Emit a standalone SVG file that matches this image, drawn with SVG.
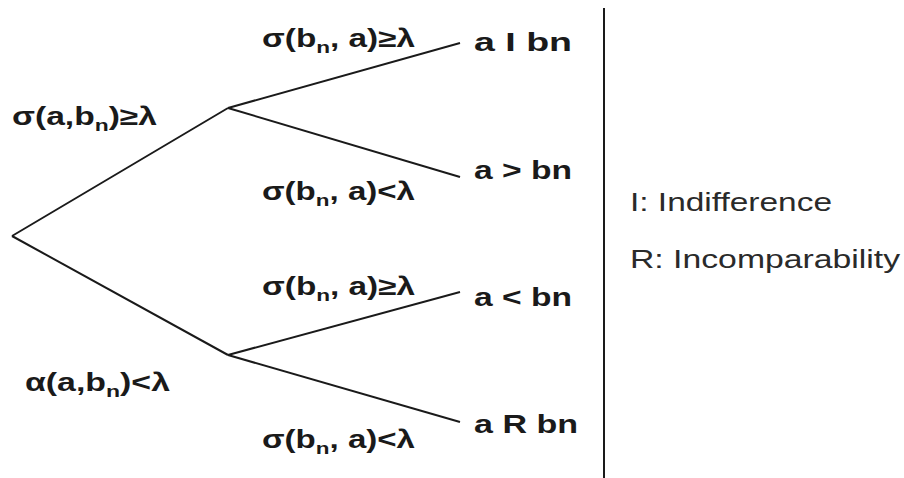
<svg xmlns="http://www.w3.org/2000/svg" width="904" height="478" viewBox="0 0 904 478">
<style>
.lbl{font-family:"Liberation Sans",Arial,sans-serif;font-weight:bold;font-size:25px;fill:#1a1a1a}
.leg{font-family:"Liberation Sans",Arial,sans-serif;font-size:26px;fill:#2a2a2a}
.sub{font-size:17px}
.edge{stroke:#1a1a1a;stroke-width:2;fill:none}
</style>
<rect width="904" height="478" fill="#ffffff"/>
<g id="connectors">
<line class="edge" x1="12" y1="236" x2="228" y2="108"/>
<line class="edge" x1="12" y1="236" x2="228" y2="355"/>
<line class="edge" x1="228" y1="108" x2="460" y2="43"/>
<line class="edge" x1="228" y1="108" x2="460" y2="177"/>
<line class="edge" x1="228" y1="355" x2="460" y2="292"/>
<line class="edge" x1="228" y1="355" x2="460" y2="422"/>
<line class="edge" x1="604" y1="8" x2="604" y2="478"/>
</g>
<g id="cond-top">
<text class="lbl" x="12" y="125" textLength="145" lengthAdjust="spacingAndGlyphs">σ(a,b<tspan class="sub" dy="6">n</tspan><tspan dy="-6">)≥λ</tspan></text>
</g>
<g id="cond-bottom">
<text class="lbl" x="25" y="391" textLength="145" lengthAdjust="spacingAndGlyphs">α(a,b<tspan class="sub" dy="6">n</tspan><tspan dy="-6">)&lt;λ</tspan></text>
</g>
<g id="cond-1">
<text class="lbl" x="262" y="47" textLength="153" lengthAdjust="spacingAndGlyphs">σ(b<tspan class="sub" dy="6">n</tspan><tspan dy="-6">, a)≥λ</tspan></text>
</g>
<g id="cond-2">
<text class="lbl" x="262" y="200" textLength="153" lengthAdjust="spacingAndGlyphs">σ(b<tspan class="sub" dy="6">n</tspan><tspan dy="-6">, a)&lt;λ</tspan></text>
</g>
<g id="cond-3">
<text class="lbl" x="262" y="295" textLength="153" lengthAdjust="spacingAndGlyphs">σ(b<tspan class="sub" dy="6">n</tspan><tspan dy="-6">, a)≥λ</tspan></text>
</g>
<g id="cond-4">
<text class="lbl" x="262" y="448" textLength="153" lengthAdjust="spacingAndGlyphs">σ(b<tspan class="sub" dy="6">n</tspan><tspan dy="-6">, a)&lt;λ</tspan></text>
</g>
<g id="leaf-I"><text class="lbl" x="474" y="51" textLength="98" lengthAdjust="spacingAndGlyphs">a I bn</text></g>
<g id="leaf-gt"><text class="lbl" x="474" y="179" textLength="98" lengthAdjust="spacingAndGlyphs">a &gt; bn</text></g>
<g id="leaf-lt"><text class="lbl" x="474" y="306" textLength="98" lengthAdjust="spacingAndGlyphs">a &lt; bn</text></g>
<g id="leaf-R"><text class="lbl" x="474" y="433" textLength="104" lengthAdjust="spacingAndGlyphs">a R bn</text></g>
<g id="legend">
<text class="leg" x="630" y="211" textLength="202" lengthAdjust="spacingAndGlyphs">I: Indifference</text>
<text class="leg" x="630" y="268" textLength="270" lengthAdjust="spacingAndGlyphs">R: Incomparability</text>
</g>
</svg>
